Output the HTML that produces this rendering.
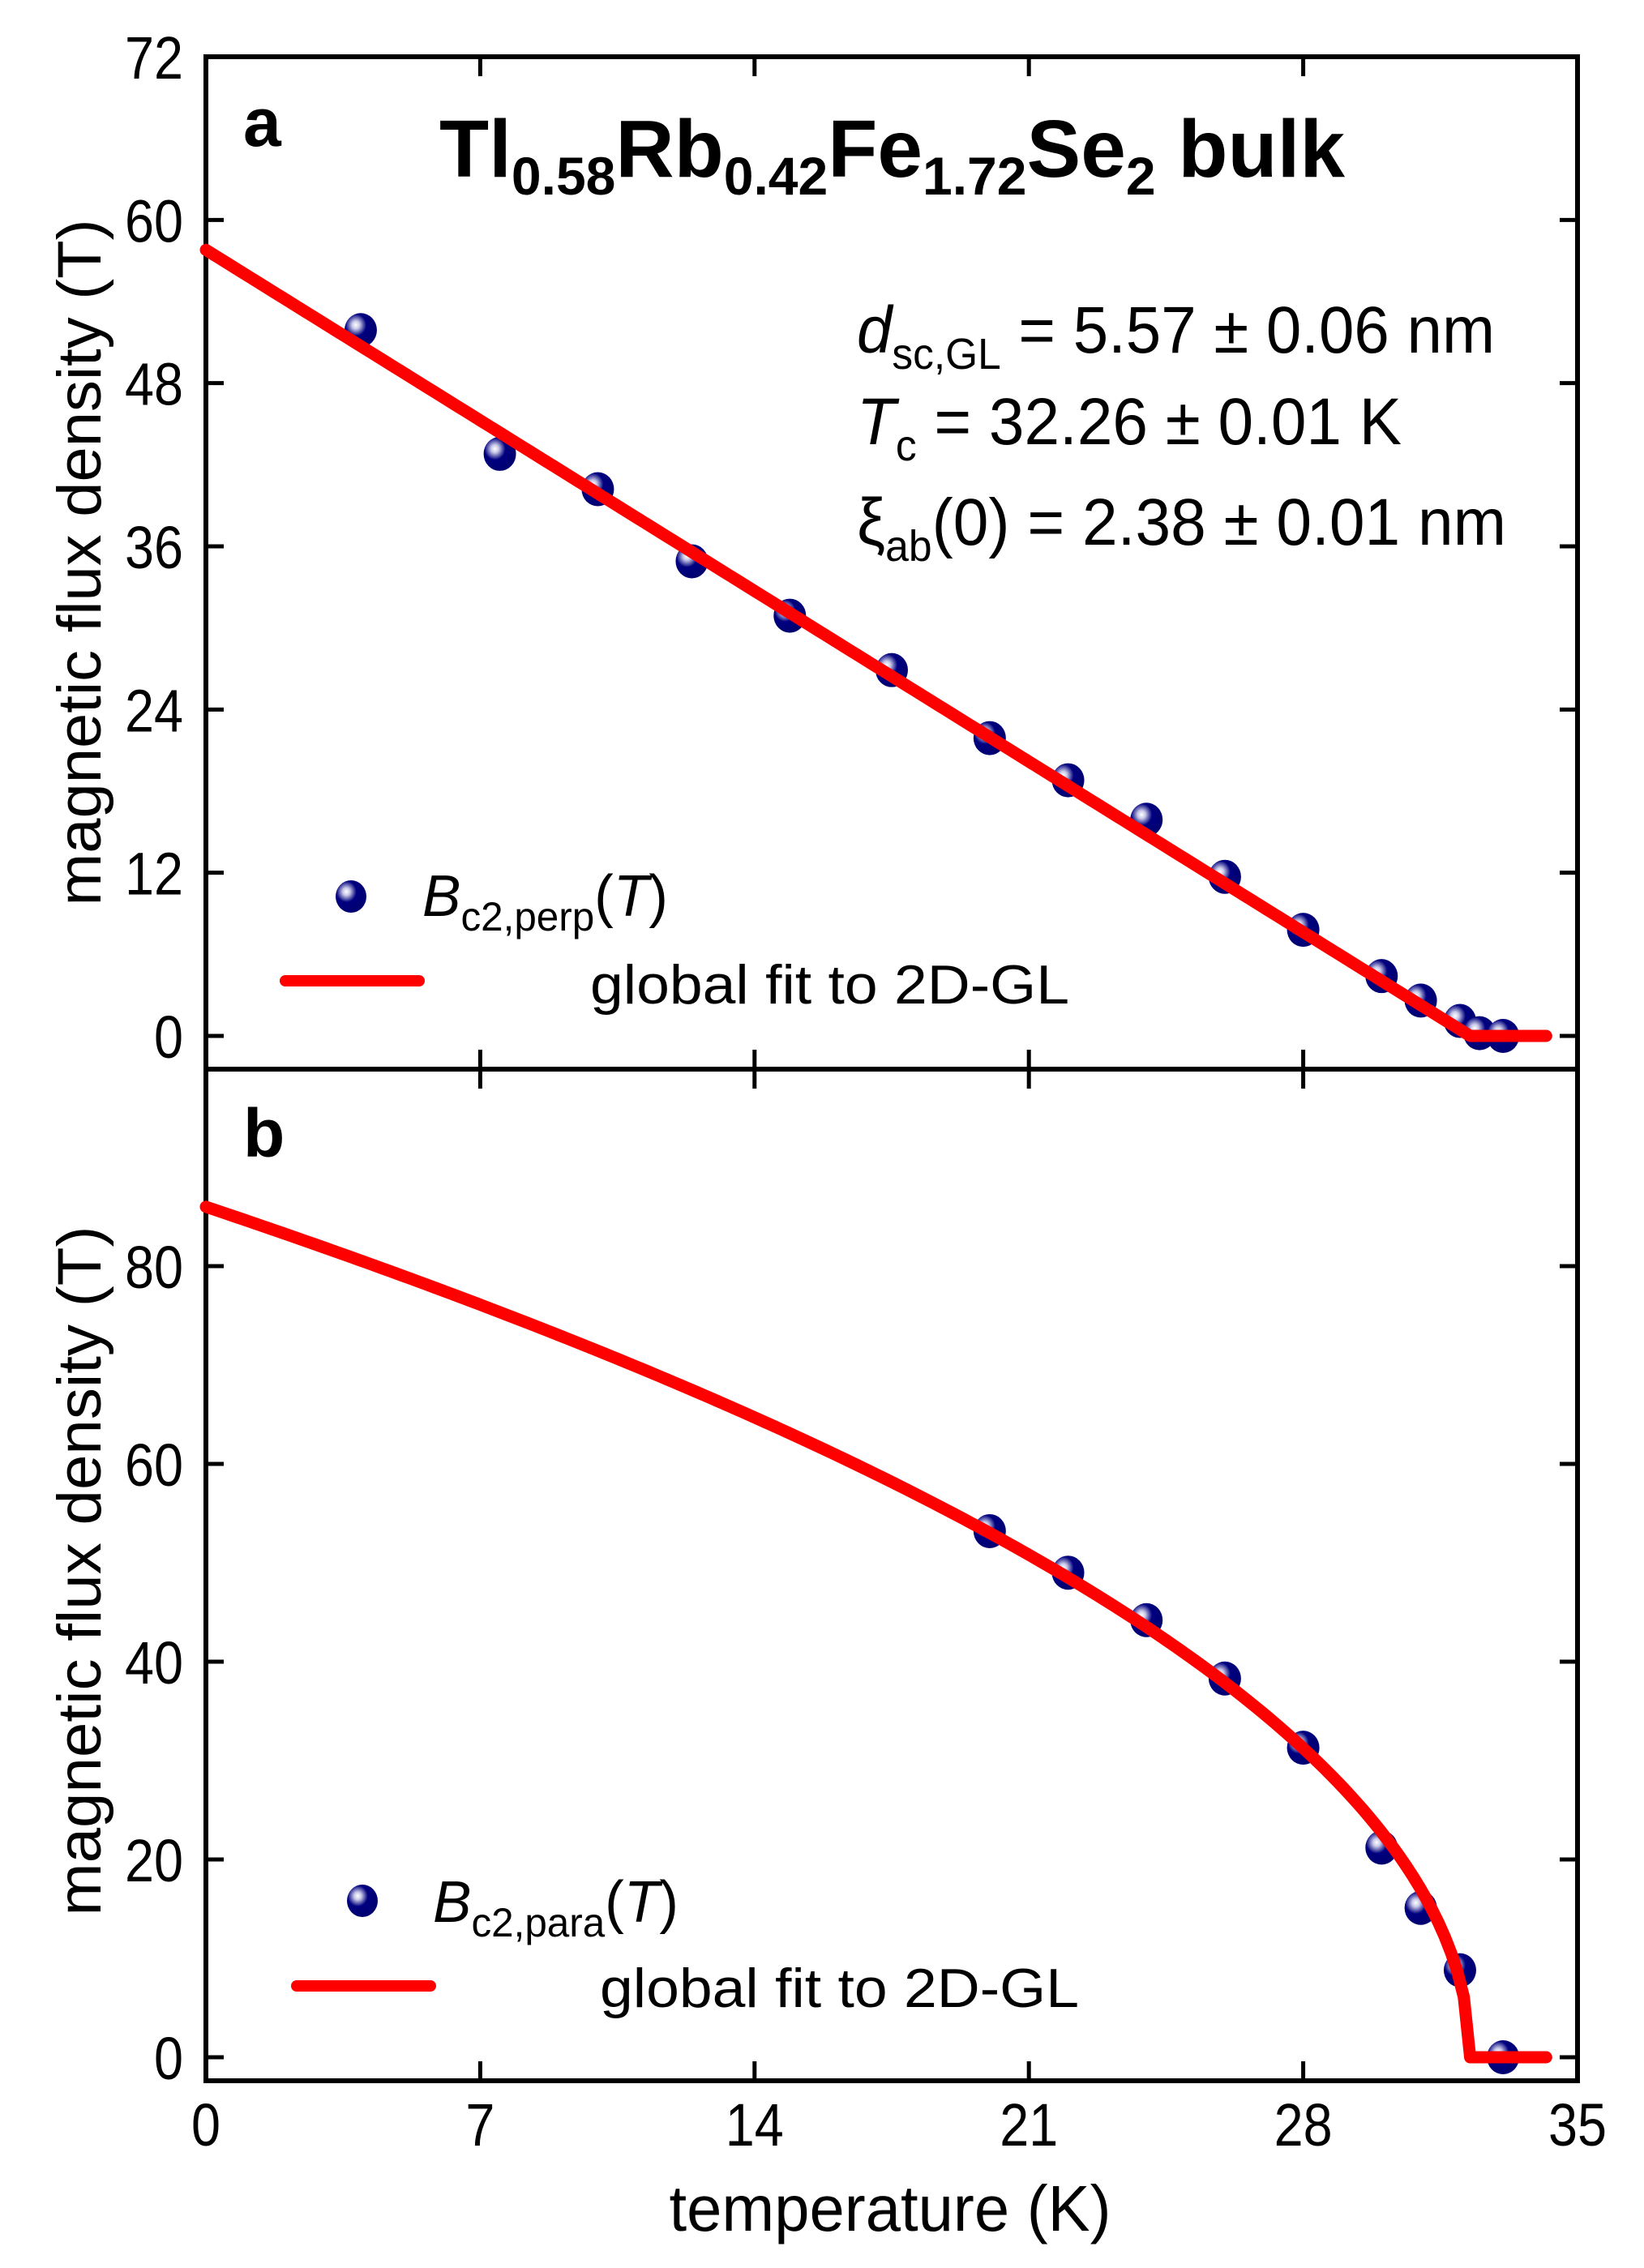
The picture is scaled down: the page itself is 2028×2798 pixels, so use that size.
<!DOCTYPE html>
<html><head><meta charset="utf-8"><style>
html,body{margin:0;padding:0;background:#fff}
svg{display:block;font-family:"Liberation Sans",Arial,sans-serif}
</style></head><body>
<svg id="chart" width="2028" height="2798" viewBox="0 0 2028 2798" xmlns="http://www.w3.org/2000/svg">
<defs>
<radialGradient id="ball" cx="0.35" cy="0.35" r="0.65">
<stop offset="0" stop-color="#ffffff"/><stop offset="0.18" stop-color="#c8c8e8"/><stop offset="0.32" stop-color="#7070b8"/><stop offset="0.5" stop-color="#000080"/><stop offset="1" stop-color="#000070"/>
</radialGradient>
</defs>
<g id="axesA"></g>
<g id="axesB"></g>
<text x="300" y="180" font-size="84" font-weight="bold">a</text>
<text x="300" y="1427" font-size="84" font-weight="bold">b</text>
<text x="542" y="218" font-size="100" font-weight="bold" textLength="1117" lengthAdjust="spacingAndGlyphs">Tl<tspan font-size="66" dy="22">0.58</tspan><tspan dy="-22">Rb</tspan><tspan font-size="66" dy="22">0.42</tspan><tspan dy="-22">Fe</tspan><tspan font-size="66" dy="22">1.72</tspan><tspan dy="-22">Se</tspan><tspan font-size="66" dy="22">2</tspan><tspan dy="-22"> bulk</tspan></text>
<text x="1057" y="435" font-size="82" textLength="787" lengthAdjust="spacingAndGlyphs"><tspan font-style="italic">d</tspan><tspan font-size="54" dy="20">sc,GL</tspan><tspan dy="-20"> = 5.57 ± 0.06 nm</tspan></text>
<text x="1057" y="548" font-size="82" textLength="672" lengthAdjust="spacingAndGlyphs"><tspan font-style="italic">T</tspan><tspan font-size="54" dy="20">c</tspan><tspan dy="-20"> = 32.26 ± 0.01 K</tspan></text>
<text x="1057" y="672" font-size="82" textLength="801" lengthAdjust="spacingAndGlyphs">ξ<tspan font-size="54" dy="20">ab</tspan><tspan dy="-20">(0) = 2.38 ± 0.01 nm</tspan></text>
<g>
<ellipse cx="433" cy="1106" rx="19" ry="20" fill="url(#ball)"/>
<text x="521" y="1130" font-size="72" textLength="303" lengthAdjust="spacingAndGlyphs"><tspan font-style="italic">B</tspan><tspan font-size="50" dy="18">c2,perp</tspan><tspan dy="-18">(</tspan><tspan font-style="italic">T</tspan>)</text>
<line x1="352" y1="1210" x2="517" y2="1210" stroke="#ff0000" stroke-width="14" stroke-linecap="round"/>
<text x="728" y="1238" font-size="68" textLength="591" lengthAdjust="spacingAndGlyphs">global fit to 2D-GL</text>
</g>
<g>
<ellipse cx="447" cy="2345" rx="19" ry="20" fill="url(#ball)"/>
<text x="534" y="2371" font-size="72" textLength="303" lengthAdjust="spacingAndGlyphs"><tspan font-style="italic">B</tspan><tspan font-size="50" dy="18">c2,para</tspan><tspan dy="-18">(</tspan><tspan font-style="italic">T</tspan>)</text>
<line x1="366" y1="2450" x2="531" y2="2450" stroke="#ff0000" stroke-width="14" stroke-linecap="round"/>
<text x="740" y="2476" font-size="68" textLength="591" lengthAdjust="spacingAndGlyphs">global fit to 2D-GL</text>
</g>
<text x="1098" y="2752" font-size="80" text-anchor="middle" textLength="545" lengthAdjust="spacingAndGlyphs">temperature (K)</text>
<text transform="translate(124,694) rotate(-90)" font-size="76" text-anchor="middle" textLength="847" lengthAdjust="spacingAndGlyphs">magnetic flux density (T)</text>
<text transform="translate(124,1938) rotate(-90)" font-size="76" text-anchor="middle" textLength="851" lengthAdjust="spacingAndGlyphs">magnetic flux density (T)</text>
</svg>
<script>
const xTicks=[0,7,14,21,28,35];
const yTicksA=[0,12,24,36,48,60,72];
const yTicksB=[0,20,40,60,80];
const tempPerp=[3.95,7.5,10.0,12.4,14.9,17.5,20.0,22.0,24.0,26.0,28.0,30.0,31.0,32.0,32.5,33.1];
const bPerp=[51.9,42.8,40.2,34.9,30.9,26.9,21.9,18.8,15.9,11.7,7.8,4.4,2.6,1.1,0.2,0.0];
const tempPara=[20.0,22.0,24.0,26.0,28.0,30.0,31.0,32.0,33.1];
const bPara=[53.2,49.0,44.2,38.3,31.3,21.2,15.1,8.8,0.0];
const fitTc=[32.26];
const fitB0Perp=[57.8];
const fitB0Para=[86.0];
const fitTmax=[34.2];

const NS="http://www.w3.org/2000/svg";
const svg=document.getElementById('chart');
const L=254,R=1946;
const xs=t=>L+t*(R-L)/35;
const yA=b=>1278-b*(1278-70)/72;
const yB=b=>2538-b*(2538-1562)/80;
function mk(tag,attrs,parent){const e=document.createElementNS(NS,tag);for(const k in attrs)e.setAttribute(k,attrs[k]);(parent||svg).appendChild(e);return e;}
const gA=document.getElementById('axesA'),gB=document.getElementById('axesB');
const fA=mk('rect',{x:L,y:70,width:R-L,height:1319-70,fill:'none',stroke:'#000','stroke-width':6},gA);


const fB=mk('rect',{x:L,y:1319,width:R-L,height:2567-1319,fill:'none',stroke:'#000','stroke-width':6},gB);


xTicks.forEach(t=>{
  const x=xs(t);
  [[70,94],[1295,1343],[2543,2567]].forEach(([a,b])=>{
    if(t===0||t===35)return;
    const l=mk('line',{x1:x,y1:a,x2:x,y2:b,stroke:'#000','stroke-width':5});
    
    
  });
  const s=String(t);
  const tx=mk('text',{x:x,y:2647,'font-size':74,'text-anchor':'middle',textLength:s.length*36,lengthAdjust:'spacingAndGlyphs'});
  tx.textContent=s;
  
  
});
function yt(vals,f,g,skipTop){
  vals.forEach(v=>{
    const y=f(v);
    if(!(skipTop&&v===vals[vals.length-1])){
      const l1=mk('line',{x1:L,y1:y,x2:L+22,y2:y,stroke:'#000','stroke-width':5},g);
      
      
      const l2=mk('line',{x1:R-22,y1:y,x2:R,y2:y,stroke:'#000','stroke-width':5},g);
      
      
    }
    const s=String(v);
    const tx=mk('text',{x:226,y:y+27,'font-size':74,'text-anchor':'end',textLength:s.length*36,lengthAdjust:'spacingAndGlyphs'},g);
    tx.textContent=s;
    
    
  });
}
yt(yTicksA,yA,gA,true);
yt(yTicksB,yB,gB,false);
const tc=fitTc[0];
let pA=[],pB=[];
for(let i=0;i<=200;i++){const t=tc*i/200;pA.push([xs(t),yA(fitB0Perp[0]*(1-t/tc))]);pB.push([xs(t),yB(fitB0Para[0]*Math.sqrt(Math.max(0,1-t/tc)))]);}
pA.push([xs(fitTmax[0]),yA(0)]);pB.push([xs(fitTmax[0]),yB(0)]);
const fitA=mk('polyline',{points:pA.map(p=>p.join(',')).join(' '),fill:'none',stroke:'#ff0000','stroke-width':15,'stroke-linejoin':'round','stroke-linecap':'round'},gA);


const fitB=mk('polyline',{points:pB.map(p=>p.join(',')).join(' '),fill:'none',stroke:'#ff0000','stroke-width':15,'stroke-linejoin':'round','stroke-linecap':'round'},gB);


function pts(T,B,f,g,name){
  T.forEach((t,i)=>{
    const c=mk('ellipse',{cx:xs(t),cy:f(B[i]),rx:20,ry:21,fill:'url(#ball)'},g);
    
    
    g.insertBefore(c,g.querySelector('polyline'));
  });
}
pts(tempPerp,bPerp,yA,gA,'point-perp');
pts(tempPara,bPara,yB,gB,'point-para');
</script>
</body></html>
